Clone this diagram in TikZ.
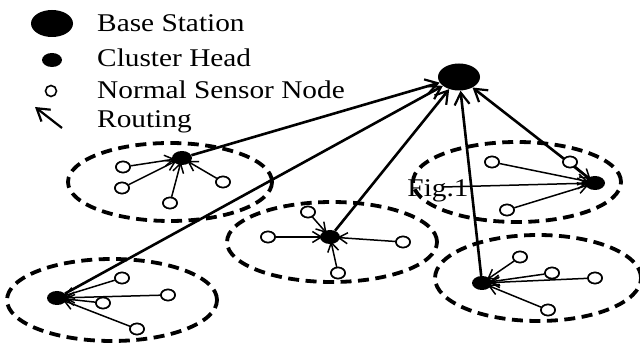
\documentclass[tikz,border=0pt]{standalone}
\usepackage{fontspec}
\setmainfont{Liberation Serif}
\usetikzlibrary{shapes.geometric,arrows.meta}
\tikzset{
  bsnode/.style={ellipse,fill=black,inner sep=0pt,minimum width=42pt,minimum height=27pt},
  chnode/.style={ellipse,fill=black,inner sep=0pt,minimum width=20pt,minimum height=14pt},
  snnode/.style={ellipse,draw=black,line width=1.6pt,fill=white,inner sep=0pt,minimum width=14pt,minimum height=11pt},
  cluster/.style={draw=black,line width=3.8pt,dash pattern=on 11pt off 6.5pt},
  sarrow/.style={line width=1.5pt,-{Straight Barb[length=9pt,width=11pt,line width=1.5pt]},shorten >=-3pt},
  rarrow/.style={line width=2.6pt,-{Straight Barb[length=12pt,width=15pt,line width=2.2pt]}},
  legtext/.style={anchor=base west,inner sep=0pt,font=\fontsize{25.5}{26}\selectfont}
}
\newcommand{\wtext}[1]{\scalebox{1.15}[1]{#1}}
\begin{document}
\begin{tikzpicture}[x=1pt,y=-1pt]
\useasboundingbox (0,0) rectangle (640,344);
% legend
\node[bsnode] (lbs) at (52,23.5) {};
\node[chnode,minimum width=20pt,minimum height=14pt] (lch) at (52,60) {};
\node[snnode,minimum width=11pt,minimum height=11pt] (lsn) at (51,91) {};
\coordinate (lra) at (62,128);
\coordinate (lrb) at (35,107);
\draw[rarrow,line width=2.2pt] (lra) -- (lrb);
\node[legtext] (t1) at (97,31.5) {\wtext{Base Station}};
\node[legtext] (t2) at (97,67) {\wtext{Cluster Head}};
\node[legtext] (t3) at (97,99) {\wtext{Normal Sensor Node}};
\node[legtext] (t4) at (97,128) {\wtext{Routing}};
% cluster ellipses
\draw[cluster] (170,182) ellipse [x radius=102pt, y radius=39pt];
\draw[cluster] (517,182) ellipse [x radius=104pt, y radius=40pt];
\draw[cluster] (332,242) ellipse [x radius=105pt, y radius=40pt];
\draw[cluster] (112,300) ellipse [x radius=105pt, y radius=41pt];
\draw[cluster] (538,278) ellipse [x radius=103pt, y radius=43pt];
% base station
\node[bsnode] (bs) at (459,77) {};
% cluster heads
\node[chnode] (cha) at (182,158) {};
\node[chnode] (chb) at (595,183) {};
\node[chnode] (chc) at (330,237) {};
\node[chnode] (chd) at (57,298) {};
\node[chnode] (che) at (482,283) {};
% sensors
\node[snnode] (a1) at (123,167) {};
\node[snnode] (a2) at (122,188) {};
\node[snnode] (a3) at (170,203) {};
\node[snnode] (a4) at (223,182) {};
\node[snnode] (b1) at (492,162) {};
\node[snnode] (b2) at (570,162) {};
\node[snnode] (b3) at (507,210) {};
\coordinate (bf) at (443,187);
\node[snnode] (c1) at (268,237) {};
\node[snnode] (c2) at (308,212) {};
\node[snnode] (c3) at (403,242) {};
\node[snnode] (c4) at (338,273) {};
\node[snnode] (d1) at (122,278) {};
\node[snnode] (d2) at (168,295) {};
\node[snnode] (d3) at (103,303) {};
\node[snnode] (d4) at (137,329) {};
\node[snnode] (e1) at (520,257) {};
\node[snnode] (e2) at (552,273) {};
\node[snnode] (e3) at (595,278) {};
\node[snnode] (e4) at (548,310) {};
% sensor arrows
\foreach \s in {a1,a2,a3,a4} \draw[sarrow] (\s) -- (cha);
\foreach \s in {b1,b3} \draw[sarrow] (\s) -- (chb);
\draw[sarrow] (bf) -- (chb);
\foreach \s in {c1,c2,c3,c4} \draw[sarrow] (\s) -- (chc);
\foreach \s in {d1,d2,d3,d4} \draw[sarrow] (\s) -- (chd);
\foreach \s in {e1,e2,e3,e4} \draw[sarrow] (\s) -- (che);
% routing
\draw[rarrow] (cha) -- (bs);
\draw[rarrow] (chb) -- (bs);
\draw[rarrow] (chc) -- (bs);
\draw[rarrow] (chd) -- (bs);
\draw[rarrow] (che) -- (bs);
\draw[sarrow] (b2) -- (chb);
% redraw sensors on top
\foreach \p in {{123,167},{122,188},{170,203},{223,182},{492,162},{570,162},{507,210},{268,237},{308,212},{403,242},{338,273},{122,278},{168,295},{103,303},{137,329},{520,257},{552,273},{595,278},{548,310}}
  \node[snnode] at (\p) {};
\node[anchor=base,inner sep=0pt,font=\fontsize{25.5}{26}\selectfont] (fig) at (438,197) {\wtext{Fig.1}};
\end{tikzpicture}
\end{document}
